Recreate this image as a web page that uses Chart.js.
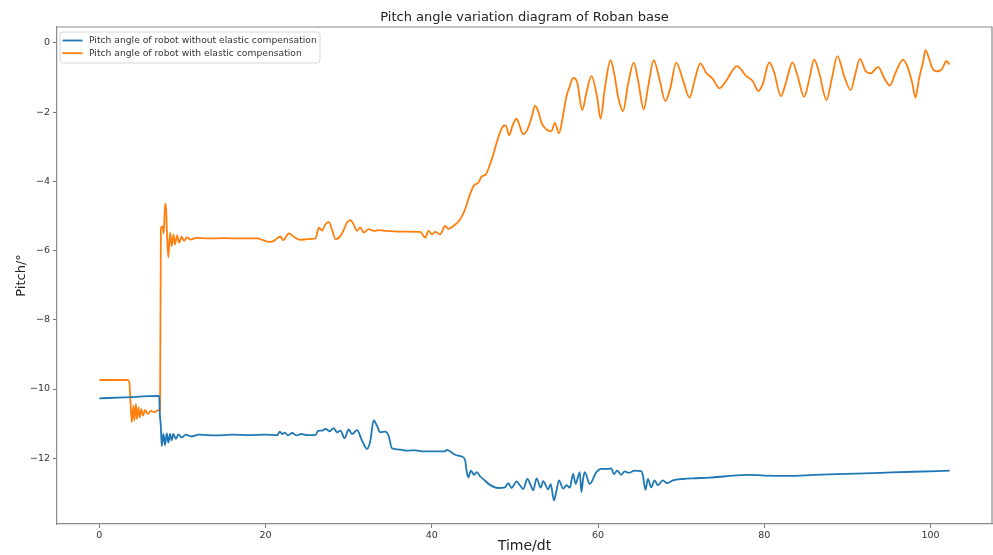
<!DOCTYPE html>
<html>
<head>
<meta charset="utf-8">
<script src="https://cdn.jsdelivr.net/npm/chart.js@4/dist/chart.umd.min.js"></script>
<style>
  html, body { margin: 0; padding: 0; background: #fff; }
  #wrap { width: 993px; height: 555px; position: relative; }
</style>
</head>
<body>
<div id="wrap"><canvas id="pitchChart"></canvas></div>
<script>
// Pitch of the base, without elastic compensation
const noCompTime = [0, 3, 7.2, 7.25, 7.4, 7.5, 7.7, 7.9, 8.1, 8.3, 8.5, 8.7, 8.9, 9.2, 9.5, 9.9, 10.4, 11, 12, 14, 16, 18, 20,
  21.4, 21.7, 22.0, 22.3, 22.7, 23.2, 23.7, 24.3, 25, 26.0, 26.3, 26.8, 27.2, 27.7, 28.2, 28.6, 29.0, 29.5, 30.0, 30.4,
  31.0, 31.6, 32.2, 32.6, 33.0, 33.4, 33.8, 34.4, 34.8, 35.2, 36.2, 37.0, 38, 39, 40.2, 41.6, 41.8, 42.8, 43.6, 44.0,
  44.2, 44.4, 44.7, 45.1, 45.4, 45.8, 46.4, 47.0, 48.0, 48.8, 49.2, 49.6, 50.2, 50.6, 51.0, 51.5, 51.9, 52.2, 52.6,
  53.1, 53.4, 54.0, 54.3, 54.7, 55.0, 55.3, 55.8, 56.2, 56.6, 57.0, 57.3, 57.8, 58.0, 58.2, 58.4, 59.0, 59.8, 60.4,
  61.2, 61.6, 61.9, 62.3, 62.8, 63.2, 63.7, 64.4, 65.2, 65.4, 65.7, 66.0, 66.4, 66.8, 67.2, 67.8, 68.3, 69.0, 70.2,
  71.4, 73.4, 75.4, 76.2, 78.2, 80, 83, 86, 90, 94, 98, 102.3];
const noCompPitch = [-10.27, -10.24, -10.2, -10.63, -11.1, -11.65, -11.3, -11.62, -11.28, -11.55, -11.3, -11.48, -11.3,
  -11.44, -11.31, -11.4, -11.32, -11.37, -11.32, -11.34, -11.32, -11.33, -11.32,
  -11.33, -11.23, -11.3, -11.26, -11.34, -11.27, -11.34, -11.3, -11.33, -11.33, -11.21, -11.2, -11.15, -11.22, -11.13,
  -11.25, -11.2, -11.42, -11.17, -11.3,
  -11.19, -11.49, -11.73, -11.5, -10.91, -11.06, -11.25, -11.23, -11.35, -11.71, -11.75, -11.78, -11.77, -11.8, -11.8,
  -11.8, -11.76, -11.9, -11.95, -12.05,
  -12.4, -12.55, -12.36, -12.48, -12.4, -12.52, -12.65, -12.77, -12.86, -12.84, -12.72, -12.86, -12.67, -12.78, -12.89,
  -12.6, -12.78, -12.93, -12.58,
  -12.85, -12.66, -12.9, -12.75, -13.22, -12.93, -12.64, -12.88, -12.78, -12.85, -12.45, -12.74, -12.4, -12.98, -12.6,
  -12.4, -12.74, -12.4, -12.31,
  -12.31, -12.29, -12.46, -12.36, -12.48, -12.38, -12.42, -12.36, -12.37, -12.5, -12.91, -12.6, -12.84, -12.64, -12.78,
  -12.64, -12.72, -12.64, -12.6,
  -12.58, -12.56, -12.52, -12.5, -12.48, -12.5, -12.51, -12.48, -12.45, -12.42, -12.39, -12.36];

// Pitch of the base, with elastic compensation
const compTime = [0, 3.4, 3.6, 3.75, 3.9, 4.1, 4.2, 4.4, 4.5, 4.7, 4.85, 5.05, 5.25, 5.5, 5.8, 6.2, 6.6, 7.1, 7.3,
  7.4, 7.6, 7.75, 7.9, 8.0, 8.15, 8.3, 8.5, 8.7, 8.9, 9.1, 9.35, 9.6, 9.9, 10.2, 10.5, 11, 11.7, 13, 15, 17, 19,
  19.7, 20.4, 21, 21.5, 21.8, 22.1, 22.8, 23.4, 24.2, 25, 26.0, 26.4, 26.8, 27.2, 27.6, 28.0, 28.4, 28.8, 29.2,
  29.8, 30.2, 30.6, 31.0, 31.4, 31.8, 32.4, 33.0, 33.6, 34.6, 35.8, 37, 38.6, 39.2, 39.6, 40.0, 40.4, 41.0, 41.6,
  42.0, 42.6, 43.4, 44.0, 44.6, 45.1, 45.6, 46.0, 46.5, 47.0, 47.4, 47.8, 48.2, 48.6, 48.9, 49.3, 49.7, 50.2, 50.5,
  51.0, 51.5, 52.1, 52.4, 52.8, 53.2, 53.8, 54.4, 54.8, 55.3, 55.7, 56.2, 56.6, 57.0, 57.5, 58.1, 58.6, 59.2, 59.9,
  60.3, 60.8, 61.5, 62.0, 62.4, 63.0, 63.6, 64.3, 64.8, 65.5, 66.0, 66.7, 67.4, 68.1, 68.7, 69.4, 70.2, 71.0, 71.6,
  72.3, 73.0, 73.8, 74.6, 75.4, 76.7, 77.8, 78.6, 79.3, 79.8, 80.6, 81.2, 82.0, 82.6, 83.4, 84.0, 84.8, 85.4, 86.0,
  86.6, 87.5, 88.1, 88.8, 89.6, 90.4, 90.9, 91.5, 92.2, 92.8, 93.7, 94.4, 95.1, 95.8, 96.7, 97.2, 97.8, 98.2, 98.6,
  99.1, 99.4, 99.8, 100.2, 100.8, 101.4, 101.9, 102.3];
const compPitch = [-9.74, -9.74, -9.8, -10.43, -10.96, -10.48, -10.91, -10.43, -10.87, -10.53, -10.82, -10.58, -10.77,
  -10.6, -10.72, -10.63, -10.67, -10.61, -10.62,
  -5.35, -5.3, -5.5, -4.65, -4.65, -5.6, -6.2, -5.48, -5.87, -5.53, -5.82, -5.56, -5.77, -5.6, -5.72, -5.62, -5.68,
  -5.63, -5.65, -5.64, -5.65, -5.65,
  -5.7, -5.75, -5.72, -5.62, -5.6, -5.7, -5.5, -5.6, -5.69, -5.67, -5.65, -5.34, -5.42, -5.24, -5.18, -5.4, -5.67,
  -5.63, -5.5,
  -5.19, -5.12, -5.25, -5.43, -5.33, -5.48, -5.38, -5.43, -5.41, -5.43, -5.45, -5.45, -5.46, -5.62, -5.43, -5.53,
  -5.46, -5.53, -5.29,
  -5.37, -5.29, -5.1, -4.81, -4.37, -4.11, -4.04, -3.86, -3.8, -3.51, -3.22, -2.88, -2.59, -2.4, -2.38, -2.67, -2.4,
  -2.19, -2.35,
  -2.64, -2.5, -2.07, -1.81, -1.97, -2.31, -2.5, -2.55, -2.31, -2.61, -2.21, -1.54, -1.25, -1.01, -1.15, -1.94, -1.44,
  -0.96, -1.58,
  -2.19, -1.34, -0.5, -0.96, -1.54, -1.97, -1.2, -0.57, -1.06, -1.92, -1.3, -0.5, -1.06, -1.68, -1.3, -0.57, -1.06,
  -1.58, -1.1,
  -0.59, -0.86, -1.04, -1.31, -1.1, -0.67, -0.95, -1.1, -1.39, -1.2, -0.56, -0.86, -1.54, -1.15, -0.56, -0.95, -1.56,
  -1.06, -0.48,
  -0.86, -1.65, -1.06, -0.38, -0.95, -1.36, -0.95, -0.46, -0.82, -0.88, -0.69, -1.0, -1.23, -0.86, -0.48, -0.67, -1.15,
  -1.58, -1.06,
  -0.55, -0.21, -0.43, -0.72, -0.82, -0.75, -0.53, -0.62];

const seriesLabels = [
  'Pitch angle of robot without elastic compensation',
  'Pitch angle of robot with elastic compensation'
];

const FONT = 'DejaVu Sans';
const toPoints = (xs, ys) => xs.map((x, i) => ({ x: x, y: ys[i] }));

// matplotlib-like frame: top and right spines
const framePlugin = {
  id: 'frame',
  afterDraw(chart) {
    const { ctx, chartArea: a } = chart;
    ctx.save();
    ctx.strokeStyle = '#8a8a8a';
    ctx.lineWidth = 1.2;
    ctx.beginPath();
    ctx.moveTo(a.left, a.top);
    ctx.lineTo(a.right, a.top);
    ctx.lineTo(a.right, a.bottom);
    ctx.stroke();
    ctx.restore();
  }
};

// legend box in the upper-left corner of the plot
const insetLegend = {
  id: 'insetLegend',
  afterDraw(chart) {
    const { ctx, chartArea: a } = chart;
    const x0 = a.left + 3, y0 = a.top + 5, w = 260, h = 31;
    ctx.save();
    ctx.fillStyle = 'rgba(255,255,255,0.8)';
    ctx.strokeStyle = '#d8d8d8';
    ctx.lineWidth = 1;
    ctx.beginPath();
    ctx.roundRect(x0, y0, w, h, 3);
    ctx.fill();
    ctx.stroke();
    ctx.font = '9.2px ' + FONT;
    ctx.textBaseline = 'middle';
    ctx.fillStyle = '#333';
    chart.data.datasets.forEach((ds, i) => {
      const y = y0 + 8.5 + i * 12.7;
      ctx.strokeStyle = ds.borderColor;
      ctx.lineWidth = 1.8;
      ctx.beginPath();
      ctx.moveTo(x0 + 2.5, y);
      ctx.lineTo(x0 + 22.5, y);
      ctx.stroke();
      ctx.fillText(ds.label, x0 + 29, y);
    });
    ctx.restore();
  }
};

const minusTick = v => String(v).replace('-', '\u2212');

new Chart(document.getElementById('pitchChart'), {
  type: 'line',
  data: {
    datasets: [
      {
        label: seriesLabels[0],
        data: toPoints(noCompTime, noCompPitch),
        borderColor: '#1f77b4',
        borderWidth: 1.8,
        pointRadius: 0,
        cubicInterpolationMode: 'monotone'
      },
      {
        label: seriesLabels[1],
        data: toPoints(compTime, compPitch),
        borderColor: '#ff7f0e',
        borderWidth: 1.8,
        pointRadius: 0,
        cubicInterpolationMode: 'monotone'
      }
    ]
  },
  options: {
    responsive: true,
    maintainAspectRatio: false,
    animation: false,
    layout: { padding: { left: 0, right: 1, top: 0, bottom: 0 } },
    plugins: {
      legend: { display: false },
      tooltip: { enabled: false },
      title: {
        display: true,
        fullSize: false,
        text: 'Pitch angle variation diagram of Roban base',
        color: '#222',
        font: { family: FONT, size: 13, weight: 'normal' },
        padding: { top: 10, bottom: 1.4 }
      }
    },
    scales: {
      x: {
        type: 'linear',
        min: -5.1,
        max: 107.4,
        afterFit: s => { s.height = 31; },
        border: { display: true, color: '#8a8a8a', width: 1.2 },
        grid: { display: true, drawOnChartArea: false, drawTicks: true, tickLength: 4, tickColor: '#777' },
        ticks: {
          stepSize: 20,
          includeBounds: false,
          maxRotation: 0,
          padding: 2,
          color: '#333',
          font: { family: FONT, size: 9.5 },
          callback: v => minusTick(v)
        },
        title: {
          display: true,
          text: 'Time/dt',
          color: '#222',
          font: { family: FONT, size: 14 },
          padding: 0
        }
      },
      y: {
        type: 'linear',
        min: -13.9,
        max: 0.46,
        afterFit: s => { s.width = 57; },
        border: { display: true, color: '#8a8a8a', width: 1.2 },
        grid: { display: true, drawOnChartArea: false, drawTicks: true, tickLength: 4, tickColor: '#777' },
        ticks: {
          stepSize: 2,
          includeBounds: false,
          padding: 3,
          color: '#333',
          font: { family: FONT, size: 9.5 },
          callback: v => minusTick(v)
        },
        title: {
          display: true,
          text: 'Pitch/°',
          color: '#222',
          font: { family: FONT, size: 13 },
          padding: { top: 14, bottom: 0 }
        }
      }
    }
  },
  plugins: [framePlugin, insetLegend]
});
</script>
</body>
</html>
